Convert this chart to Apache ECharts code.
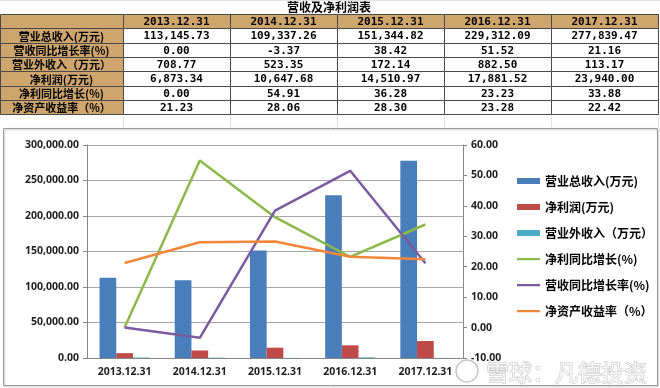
<!DOCTYPE html>
<html><head><meta charset="utf-8">
<script src="https://cdn.jsdelivr.net/npm/echarts@6/dist/echarts.min.js"></script>
<style>html,body{margin:0;padding:0;background:#fff}#c{width:660px;height:388px}</style>
</head><body><div id="c"></div>
<script>
const tableTitle = '营收及净利润表';
const years = ['2013.12.31','2014.12.31','2015.12.31','2016.12.31','2017.12.31'];
const rowLabels = ['营业总收入(万元)','营收同比增长率(%)','营业外收入（万元）','净利润(万元)','净利同比增长(%)','净资产收益率（%）'];
const revenue = [113145.73, 109337.26, 151344.82, 229312.09, 277839.47];
const revenueGrowth = [0.00, -3.37, 38.42, 51.52, 21.16];
const otherIncome = [708.77, 523.35, 172.14, 882.50, 113.17];
const netProfit = [6873.34, 10647.68, 14510.97, 17881.52, 23940.00];
const profitGrowth = [0.00, 54.91, 36.28, 23.23, 33.88];
const roe = [21.23, 28.06, 28.30, 23.28, 22.42];
const seriesNames = ['营业总收入(万元)','净利润(万元)','营业外收入（万元）','净利同比增长(%)','营收同比增长率(%)','净资产收益率（%）'];

const fmt = v => v.toLocaleString('en-US',{minimumFractionDigits:2,maximumFractionDigits:2});
const tableRows = [revenue, revenueGrowth, otherIncome, netProfit, profitGrowth, roe];

// table layout
const colX = [0,123,230,337,444,551,658];
const rowTop = 14, rowH = 14.3;
const tan = '#CFA56E', border = '#4a4a4a';
const graphics = [];
for (let i = 1; i < colX.length; i++) {
  graphics.push({type:'line', shape:{x1:colX[i]+0.5,y1:0,x2:colX[i]+0.5,y2:128}, style:{stroke:'#e2e2e2',lineWidth:1}, silent:true});
}
graphics.push({type:'line', shape:{x1:0,y1:0.5,x2:660,y2:0.5}, style:{stroke:'#e2e2e2'}, silent:true});
graphics.push({type:'rect', shape:{x:0,y:1,width:660,height:13}, style:{fill:'#fff'}, silent:true});
graphics.push({type:'text', style:{text:tableTitle, x:329, y:7.5, align:'center', verticalAlign:'middle', font:'bold 12px "Noto Sans CJK SC"', fill:'#000'}});
for (let r = 0; r < 7; r++) {
  const y = rowTop + r*rowH;
  for (let c = 0; c < 6; c++) {
    const x = colX[c], w = colX[c+1]-colX[c];
    const fill = (r === 0 || c === 0) ? tan : '#fff';
    graphics.push({type:'rect', shape:{x:x+0.5,y:Math.round(y)+0.5,width:w,height:Math.round(y+rowH)-Math.round(y)}, style:{fill:fill, stroke:border, lineWidth:1}, silent:true});
    let txt = '', font = 'bold 11px "DejaVu Sans Mono"';
    if (r === 0 && c > 0) txt = years[c-1];
    else if (r > 0 && c === 0) { txt = rowLabels[r-1]; font = 'bold 11px "Noto Sans CJK SC"'; }
    else if (r > 0) txt = fmt(tableRows[r-1][c-1]);
    if (txt) graphics.push({type:'text', style:{text:txt, x:x+w/2, y:y+rowH/2+1, align:'center', verticalAlign:'middle', font:font, fill:'#000'}});
  }
}
// chart box
graphics.push({type:'rect', shape:{x:3.5,y:128.5,width:654,height:257}, style:{fill:'none', stroke:'#9a9a9a', lineWidth:1, shadowBlur:2, shadowColor:'rgba(0,0,0,0.25)', shadowOffsetX:1, shadowOffsetY:1}, silent:true, z:-1});
// watermark
graphics.push({type:'circle', shape:{cx:467,cy:371,r:11}, style:{fill:'rgba(255,255,255,0.6)', stroke:'#c8c8c8', lineWidth:1.5}, z:100, silent:true});
graphics.push({type:'text', style:{text:'雪球：凡德投资', x:486, y:372, verticalAlign:'middle', font:'23px "Noto Sans CJK SC"', fill:'rgba(255,255,255,0.75)', stroke:'#c4c4c4', lineWidth:1}, z:100, silent:true});

const lineIcon = 'path://M0,0L0.01,0L0.01,0.01Z M0,2L23,2L23,4.2L0,4.2Z M0,6L0.01,6L0.01,5.99Z';
const chart = echarts.init(document.getElementById('c'));
const axisFont = {fontFamily:'"Noto Sans", sans-serif', fontWeight:'bold', fontSize:10.5, color:'#1e1e1e'};
chart.setOption({
  animation:false,
  backgroundColor:'#fff',
  graphic: graphics,
  grid:{left:87, right:197, top:145, bottom:30},
  legend:{
    orient:'vertical', left:512, top:170, itemGap:14, itemWidth:23, itemHeight:6,
    data: seriesNames.map((n,i)=> ({name:n, icon: i<3 ? 'rect' : lineIcon})),
    textStyle:{fontFamily:'"Noto Sans CJK SC"', fontWeight:'bold', fontSize:12, color:'#000'}
  },
  xAxis:{
    type:'category', data:years,
    axisLine:{lineStyle:{color:'#868686'}},
    axisTick:{length:5, lineStyle:{color:'#868686'}},
    axisLabel:Object.assign({margin:9}, axisFont)
  },
  yAxis:[
    {type:'value', min:0, max:300000, interval:50000,
     axisLine:{show:true, lineStyle:{color:'#868686'}},
     axisTick:{show:true, length:4, lineStyle:{color:'#868686'}},
     splitLine:{lineStyle:{color:'#a6a6a6'}},
     axisLabel:Object.assign({margin:8, formatter:v=>fmt(v)}, axisFont)},
    {type:'value', min:-10, max:60, interval:10,
     axisLine:{show:true, lineStyle:{color:'#868686'}},
     axisTick:{show:true, length:4, lineStyle:{color:'#868686'}},
     splitLine:{show:false},
     axisLabel:Object.assign({margin:8, formatter:v=>v.toFixed(2)}, axisFont)}
  ],
  series:[
    {name:seriesNames[0], type:'bar', data:revenue, barWidth:16.7, barGap:'0%', itemStyle:{color:'#4A7EBB'}},
    {name:seriesNames[1], type:'bar', data:netProfit, barWidth:16.7, barGap:'0%', itemStyle:{color:'#BE4B48'}},
    {name:seriesNames[2], type:'bar', data:otherIncome, barWidth:16.7, barGap:'0%', itemStyle:{color:'#4BACC6'}},
    {name:seriesNames[3], type:'line', yAxisIndex:1, data:profitGrowth, symbol:'none', lineStyle:{width:2.5, color:'#8DB84A'}, itemStyle:{color:'#8DB84A'}},
    {name:seriesNames[4], type:'line', yAxisIndex:1, data:revenueGrowth, symbol:'none', lineStyle:{width:2.5, color:'#7A5BA0'}, itemStyle:{color:'#7A5BA0'}},
    {name:seriesNames[5], type:'line', yAxisIndex:1, data:roe, symbol:'none', lineStyle:{width:2.5, color:'#F2873A'}, itemStyle:{color:'#F2873A'}}
  ]
});
</script></body></html>
